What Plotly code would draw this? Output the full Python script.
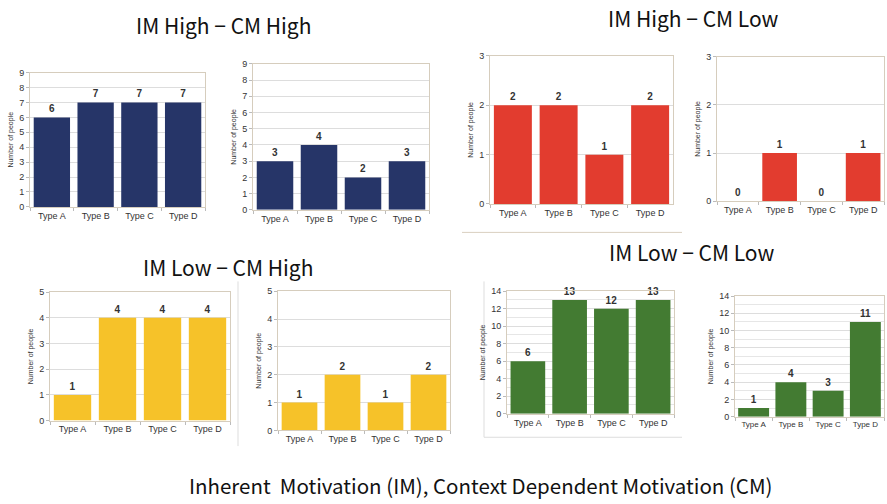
import plotly.graph_objects as go

W, H = 887, 504

categories = ["Type A", "Type B", "Type C", "Type D"]

im_high_cm_high_1 = [6, 7, 7, 7]
im_high_cm_high_2 = [3, 4, 2, 3]
im_high_cm_low_1 = [2, 2, 1, 2]
im_high_cm_low_2 = [0, 1, 0, 1]
im_low_cm_high_1 = [1, 4, 4, 4]
im_low_cm_high_2 = [1, 2, 1, 2]
im_low_cm_low_1 = [6, 13, 12, 13]
im_low_cm_low_2 = [1, 4, 3, 11]

y_max = [9, 9, 3, 3, 5, 5, 14, 14]

group_titles = ["IM High − CM High", "IM High − CM Low", "IM Low − CM High", "IM Low − CM Low"]
caption = "Inherent  Motivation (IM), Context Dependent Motivation (CM)"
y_title = "Number of people"

NAVY = "#263568"
RED = "#e23c2f"
YELLOW = "#f6c229"
GREEN = "#437b32"

series = [im_high_cm_high_1, im_high_cm_high_2, im_high_cm_low_1, im_high_cm_low_2,
          im_low_cm_high_1, im_low_cm_high_2, im_low_cm_low_1, im_low_cm_low_2]
colors = [NAVY, NAVY, RED, RED, YELLOW, YELLOW, GREEN, GREEN]

# plot-area boxes in page pixels: (left, right, top, bottom)
boxes = [
    (30, 205, 69, 206),
    (253, 429, 60, 209),
    (490, 673, 52, 203),
    (717, 884, 53, 200),
    (50, 230, 293, 424),
    (278, 450, 292, 434),
    (507, 674, 292, 417),
    (735, 884, 297, 420),
]


def px(x):
    return x / W


def py(y):
    return 1 - y / H


fig = go.Figure()
FONT = "Liberation Sans, Arial, sans-serif"

for i, (vals, col, box) in enumerate(zip(series, colors, boxes)):
    n = "" if i == 0 else str(i + 1)
    fig.add_trace(go.Bar(
        x=categories, y=vals, marker=dict(color=col, line=dict(width=0)),
        text=[str(v) for v in vals], textposition="outside",
        textfont=dict(family=FONT, size=10, color="#333333", weight="bold"),
        cliponaxis=False, xaxis="x" + n, yaxis="y" + n, showlegend=False,
    ))
    l, r, t, b = box
    big = y_max[i] >= 14
    fig.layout["xaxis" + n] = dict(
        domain=[px(l), px(r)], anchor="y" + n, type="category",
        showline=True, linecolor="#d6cdbd", mirror=True, linewidth=1,
        ticks="outside", tickson="boundaries", ticklen=3, tickcolor="#bbbbbb",
        tickfont=dict(family=FONT, size=9 if (r - l) > 160 else 8, color="#333333"),
        tickangle=0, showgrid=False, fixedrange=True,
    )
    ya = dict(
        domain=[py(b), py(t)], anchor="x" + n,
        range=[0, y_max[i]], dtick=2 if big else 1,
        showline=True, linecolor="#d6cdbd", mirror=True, linewidth=1,
        ticks="outside", ticklen=3, tickcolor="#bbbbbb",
        tickfont=dict(family=FONT, size=9, color="#333333"),
        showgrid=True, gridcolor="#dddddd", gridwidth=1, zeroline=False,
        title=dict(text=y_title, font=dict(family=FONT, size=7, color="#333333"), standoff=4),
        fixedrange=True,
    )
    if big:
        ya["minor"] = dict(dtick=1, showgrid=True, gridcolor="#e6e6e6", ticks="")
    fig.layout["yaxis" + n] = ya

TFONT = "Noto Sans CJK JP, sans-serif"
title_pos = [(223, 20), (693, 13), (228, 267), (692, 252)]
annotations = []
for txt, (cx, cy) in zip(group_titles, title_pos):
    annotations.append(dict(text=txt, x=px(cx), y=py(cy), xref="paper", yref="paper",
                            xanchor="center", yanchor="middle", showarrow=False,
                            font=dict(family=TFONT, size=21, color="#111111")))
annotations.append(dict(text=caption, x=px(481), y=py(490), xref="paper", yref="paper",
                        xanchor="center", yanchor="middle", showarrow=False,
                        font=dict(family=TFONT, size=20.5, color="#111111")))

shapes = [
    dict(type="line", xref="paper", yref="paper", x0=px(462), x1=px(682),
         y0=py(232), y1=py(232), line=dict(color="#d9cfc0", width=1)),
    dict(type="line", xref="paper", yref="paper", x0=px(238), x1=px(238),
         y0=py(282), y1=py(450), line=dict(color="#dddddd", width=1)),
    dict(type="line", xref="paper", yref="paper", x0=px(484), x1=px(484),
         y0=py(282), y1=py(441), line=dict(color="#dddddd", width=1)),
    dict(type="line", xref="paper", yref="paper", x0=px(484), x1=px(682),
         y0=py(441), y1=py(441), line=dict(color="#dddddd", width=1)),
]

fig.update_layout(
    width=W, height=H, margin=dict(l=0, r=0, t=0, b=0),
    paper_bgcolor="white", plot_bgcolor="white",
    bargap=0.17, annotations=annotations, shapes=shapes,
)

# remove the browser's default 8px page margin so the figure fills the window
fig.write_html("out.html", config={"displayModeBar": False},
               post_script="document.body.style.margin='0';")
